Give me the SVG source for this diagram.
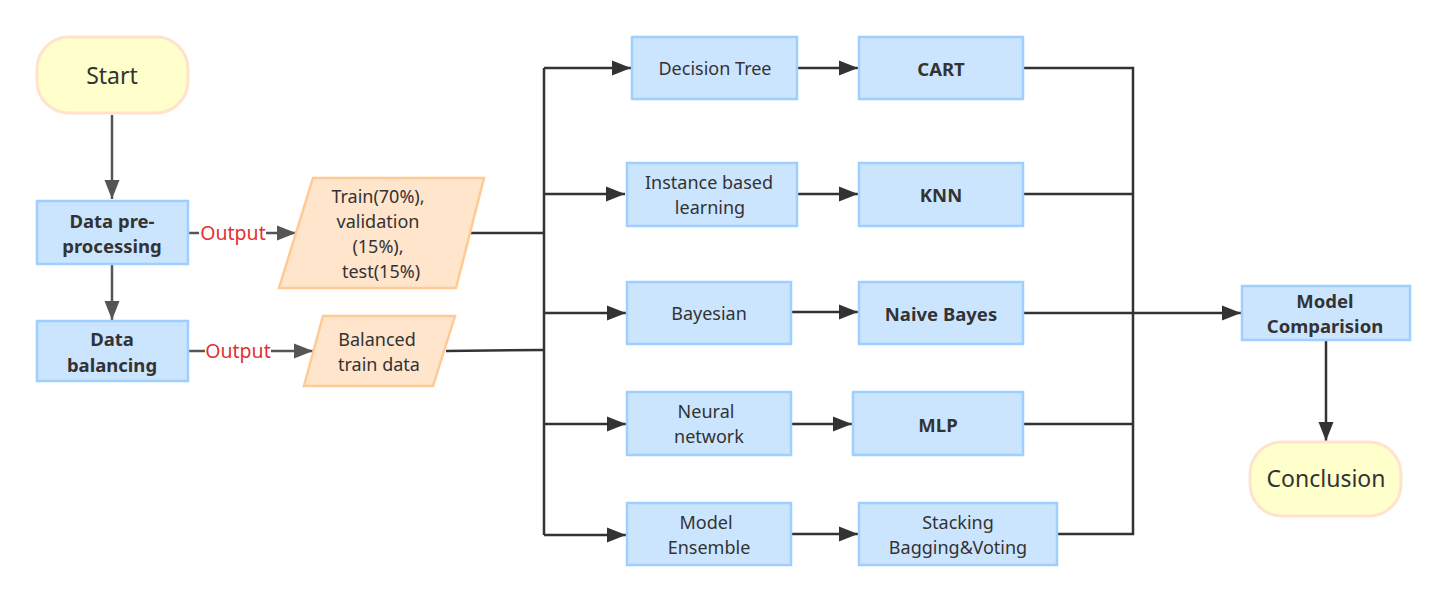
<svg xmlns="http://www.w3.org/2000/svg" width="1447" height="603" viewBox="0 0 1447 603">
<defs>
<style>
.box{fill:#CCE5FF;stroke:#9ECFFF;stroke-width:2.5}
.term{fill:#FFFFCC;stroke:#FFE3CC;stroke-width:3}
.para{fill:#FFE5CC;stroke:#FFCA94;stroke-width:2.5}
text{font-family:"Noto Sans","Open Sans","DejaVu Sans",sans-serif;fill:#333;text-anchor:middle;dominant-baseline:central}
.r{font-size:18px}
.b{font-size:18.5px;font-weight:bold}
.t{font-size:23px}
.out{font-size:19.5px;fill:#E5302F}
.c{fill:none;stroke:#333;stroke-width:2.5}
.g{fill:none;stroke:#555;stroke-width:2.5}
</style>
<marker id="ad" markerUnits="userSpaceOnUse" markerWidth="20" markerHeight="16" refX="19" refY="8" orient="auto"><path d="M0,0.5 L19,8 L0,15.5 z" fill="#333"/></marker>
<marker id="ag" markerUnits="userSpaceOnUse" markerWidth="20" markerHeight="16" refX="19" refY="8" orient="auto"><path d="M0,0.5 L19,8 L0,15.5 z" fill="#555"/></marker>
</defs>
<rect width="1447" height="603" fill="#fff"/>
<g id="connectors">
<path class="g" d="M112,115 V199" marker-end="url(#ag)"/>
<path class="g" d="M112,265 V320" marker-end="url(#ag)"/>
<path class="g" d="M188,233 H199"/>
<path class="g" d="M266,233 H296" marker-end="url(#ag)"/>
<path class="g" d="M188,351 H205"/>
<path class="g" d="M271,351 H313" marker-end="url(#ag)"/>
<path class="c" d="M467,233 L544,233"/>
<path class="c" d="M446,351 L544,350"/>
<path class="c" d="M544,68 V535"/>
<path class="c" d="M544,68 H631" marker-end="url(#ad)"/>
<path class="c" d="M544,194 H625" marker-end="url(#ad)"/>
<path class="c" d="M544,313 H626" marker-end="url(#ad)"/>
<path class="c" d="M544,424 H626" marker-end="url(#ad)"/>
<path class="c" d="M544,535 H626" marker-end="url(#ad)"/>
<path class="c" d="M798,68 H858" marker-end="url(#ad)"/>
<path class="c" d="M798,194 H858" marker-end="url(#ad)"/>
<path class="c" d="M791,312 H858" marker-end="url(#ad)"/>
<path class="c" d="M791,424 H852" marker-end="url(#ad)"/>
<path class="c" d="M791,534 H858" marker-end="url(#ad)"/>
<path class="c" d="M1023,68 H1133 V534 H1058"/>
<path class="c" d="M1023,194 H1133"/>
<path class="c" d="M1023,424 H1133"/>
<path class="c" d="M1023,313 H1241" marker-end="url(#ad)"/>
<path class="c" d="M1326,341 V441" marker-end="url(#ad)"/>
<text class="out" x="233" y="232">Output</text>
<text class="out" x="238" y="350">Output</text>
</g>
<g id="start"><rect class="term" x="37" y="37" width="151" height="76" rx="32"/><text class="t" x="112" y="75">Start</text></g>
<g id="preprocessing"><rect class="box" x="37" y="201" width="151" height="63"/><text class="b" x="112" y="220">Data pre-</text><text class="b" x="112" y="245.5">processing</text></g>
<g id="balancing"><rect class="box" x="37" y="321" width="151" height="60"/><text class="b" x="112" y="338.5">Data</text><text class="b" x="112" y="364">balancing</text></g>
<g id="split"><polygon class="para" points="313,178 484,178 456,288 279,288"/><text class="r" x="378" y="195.5">Train(70%),</text><text class="r" x="378" y="220.5">validation</text><text class="r" x="378" y="245.5">(15%),</text><text class="r" x="381" y="270.5">test(15%)</text></g>
<g id="balanced"><polygon class="para" points="323,316 455,316 433,386 304,386"/><text class="r" x="377" y="338.5">Balanced</text><text class="r" x="379" y="363.5">train data</text></g>
<g id="decisiontree"><rect class="box" x="632" y="37" width="165" height="62"/><text class="r" x="715" y="68">Decision Tree</text></g>
<g id="instance"><rect class="box" x="627" y="163" width="170" height="63"/><text class="r" x="709" y="182">Instance based</text><text class="r" x="710" y="207">learning</text></g>
<g id="bayesian"><rect class="box" x="627" y="282" width="164" height="62"/><text class="r" x="709" y="313">Bayesian</text></g>
<g id="neural"><rect class="box" x="627" y="392" width="164" height="63"/><text class="r" x="706" y="411">Neural</text><text class="r" x="709" y="436">network</text></g>
<g id="ensemble"><rect class="box" x="627" y="503" width="164" height="62"/><text class="r" x="706" y="521.5">Model</text><text class="r" x="709" y="546.5">Ensemble</text></g>
<g id="cart"><rect class="box" x="859" y="37" width="164" height="62"/><text class="b" x="941" y="68">CART</text></g>
<g id="knn"><rect class="box" x="859" y="163" width="164" height="63"/><text class="b" x="941" y="194">KNN</text></g>
<g id="naivebayes"><rect class="box" x="859" y="282" width="164" height="62"/><text class="b" x="941" y="313">Naive Bayes</text></g>
<g id="mlp"><rect class="box" x="853" y="392" width="170" height="63"/><text class="b" x="938" y="424">MLP</text></g>
<g id="stacking"><rect class="box" x="859" y="503" width="198" height="62"/><text class="r" x="958" y="521.5">Stacking</text><text class="r" x="958" y="546.5">Bagging&amp;Voting</text></g>
<g id="comparison"><rect class="box" x="1242" y="286" width="168" height="54"/><text class="b" x="1325" y="300">Model</text><text class="b" x="1325" y="325.5">Comparision</text></g>
<g id="conclusion"><rect class="term" x="1250" y="442" width="151" height="74" rx="32"/><text class="t" x="1326" y="478">Conclusion</text></g>
</svg>
